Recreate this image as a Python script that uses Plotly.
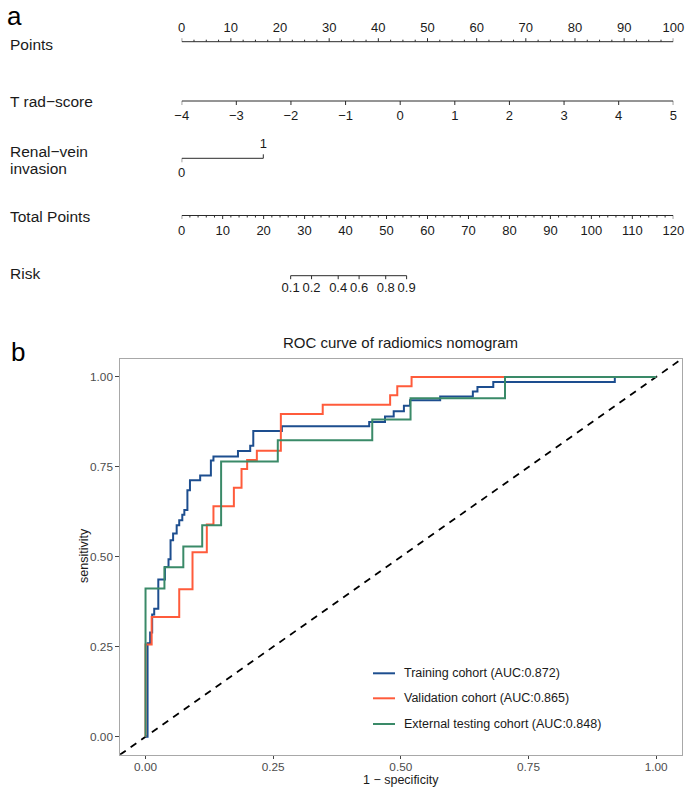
import plotly.graph_objects as go

W, H = 685, 787
FONT = "Liberation Sans, Arial, Helvetica, sans-serif"

# ---------------- Nomogram data ----------------
points_major = [0, 10, 20, 30, 40, 50, 60, 70, 80, 90, 100]
points_minor = [i * 2.5 for i in range(41)]
trad_ticks = [-4, -3, -2, -1, 0, 1, 2, 3, 4, 5]
trad_range = [-4, 5]
renal_levels = ["0", "1"]
renal_points = [0, 16.6]
total_major = [0, 10, 20, 30, 40, 50, 60, 70, 80, 90, 100, 110, 120]
total_minor = [i * 2 for i in range(61)]
total_max = 120
risk_ticks = [0.1, 0.2, 0.4, 0.6, 0.8, 0.9]
risk_labels = ["0.1", "0.2", "0.4", "0.6", "0.8", "0.9"]
risk_total_points = [26.6, 31.7, 38.2, 43.3, 49.8, 54.9]

# ---------------- ROC data ----------------
train_fpr = [0, 0.004, 0.004, 0.009, 0.013, 0.017, 0.025, 0.038, 0.045, 0.049, 0.054, 0.061,
             0.066, 0.072, 0.076, 0.082, 0.087, 0.107, 0.128, 0.133, 0.181, 0.205, 0.211,
             0.267, 0.438, 0.469, 0.486, 0.506, 0.518, 0.577, 0.641, 0.65, 0.681, 0.919, 1.0]
train_tpr = [0, 0.215, 0.26, 0.29, 0.34, 0.356, 0.437, 0.472, 0.493, 0.546, 0.565, 0.588,
             0.602, 0.617, 0.63, 0.685, 0.713, 0.726, 0.768, 0.779, 0.794, 0.809, 0.85,
             0.863, 0.875, 0.89, 0.905, 0.92, 0.935, 0.946, 0.96, 0.972, 0.986, 1.0, 1.0]
valid_fpr = [0, 0, 0.012, 0.066, 0.092, 0.12, 0.133, 0.173, 0.188, 0.199, 0.218, 0.265,
             0.347, 0.479, 0.493, 0.521, 1.0]
valid_tpr = [0, 0.256, 0.333, 0.41, 0.513, 0.59, 0.641, 0.692, 0.744, 0.769, 0.795, 0.897,
             0.923, 0.949, 0.974, 1.0, 1.0]
ext_fpr = [0, 0, 0.037, 0.074, 0.111, 0.148, 0.259, 0.444, 0.519, 0.704, 1.0]
ext_tpr = [0, 0.412, 0.471, 0.529, 0.588, 0.765, 0.824, 0.882, 0.941, 1.0, 1.0]

series_names = ["Training cohort (AUC:0.872)", "Validation cohort (AUC:0.865)",
                "External testing cohort (AUC:0.848)"]
series_colors = ["#1D4E8F", "#FF5B3B", "#3A8A68"]
roc_ticks = [0.0, 0.25, 0.5, 0.75, 1.0]


def px(x):
    return x / W


def py(y):
    return 1 - y / H


def mlabel(v):
    return str(v).replace("-", "\u2212")


fig = go.Figure()
ann = []
shapes = []

# ---------- nomogram (x2 / y2: x in points, y in pixels from top) ----------
LINEC = "#2b2b2b"


def add_segments(xs, ys):
    fig.add_trace(go.Scatter(x=xs, y=ys, mode="lines", xaxis="x2", yaxis="y2",
                             line=dict(color=LINEC, width=1), hoverinfo="skip",
                             showlegend=False, cliponaxis=False))


def add_text(xs, ys, texts, size=13):
    fig.add_trace(go.Scatter(x=xs, y=ys, mode="text", text=texts, xaxis="x2", yaxis="y2",
                             textposition="middle center",
                             textfont=dict(family=FONT, size=size, color="#1a1a1a"),
                             hoverinfo="skip", showlegend=False, cliponaxis=False))


# Points row
yl = 41.7
xs, ys = [0, 100, None], [yl, yl, None]
for v in points_minor:
    top = yl - 3.5 if v in points_major else yl - 2
    xs += [v, v, None]
    ys += [yl, top, None]
add_segments(xs, ys)
add_text(points_major, [29] * len(points_major), [str(v) for v in points_major])

# T rad-score row
yl = 101
to_pts = lambda s: (s - trad_range[0]) / (trad_range[1] - trad_range[0]) * 100
xs, ys = [0, 100, None], [yl, yl, None]
for v in trad_ticks:
    xs += [to_pts(v), to_pts(v), None]
    ys += [yl, yl + 4, None]
add_segments(xs, ys)
add_text([to_pts(v) for v in trad_ticks], [117] * len(trad_ticks), [mlabel(v) for v in trad_ticks])

# Renal-vein invasion row
yl = 158.3
add_segments([renal_points[0], renal_points[1], None, renal_points[0], renal_points[0], None,
              renal_points[1], renal_points[1]],
             [yl, yl, None, yl, yl + 4, None, yl, yl - 4])
add_text([renal_points[1]], [145], [renal_levels[1]])
add_text([renal_points[0]], [173.3], [renal_levels[0]])

# Total Points row
yl = 215.5
sc = 100 / total_max
xs, ys = [0, 100, None], [yl, yl, None]
for v in total_minor:
    bot = yl + 3.5 if v in total_major else yl + 2
    xs += [v * sc, v * sc, None]
    ys += [yl, bot, None]
add_segments(xs, ys)
add_text([v * sc for v in total_major], [231.5] * len(total_major), [str(v) for v in total_major])

# Risk row
yl = 275.7
rp = [v * sc for v in risk_total_points]
xs, ys = [rp[0], rp[-1], None], [yl, yl, None]
for v in rp:
    xs += [v, v, None]
    ys += [yl, yl + 3.5, None]
add_segments(xs, ys)
add_text(rp, [289] * len(rp), risk_labels)

# row labels
row_labels = [("Points", 44), ("T rad\u2212score", 101.5), ("Renal\u2212vein", 151),
              ("invasion", 168.5), ("Total Points", 216.5), ("Risk", 273.5)]
for t, y in row_labels:
    ann.append(dict(text=t, x=px(8), y=py(y), xref="paper", yref="paper", xanchor="left",
                    yanchor="middle", showarrow=False,
                    font=dict(family=FONT, size=15.5, color="#1a1a1a")))

# panel letters
ann.append(dict(text="a", x=px(14), y=py(15.5), xref="paper", yref="paper", showarrow=False,
                xanchor="center", yanchor="middle", font=dict(family=FONT, size=26, color="#000")))
ann.append(dict(text="b", x=px(18), y=py(352), xref="paper", yref="paper", showarrow=False,
                xanchor="center", yanchor="middle", font=dict(family=FONT, size=26, color="#000")))

# ---------- ROC ----------
fig.add_trace(go.Scatter(x=[-0.05, 1.05], y=[-0.05, 1.05], mode="lines",
                         line=dict(color="#000000", width=1.8, dash="7px,6px"),
                         hoverinfo="skip", showlegend=False))
for fx, ty, name, col in zip([train_fpr, valid_fpr, ext_fpr], [train_tpr, valid_tpr, ext_tpr],
                             series_names, series_colors):
    fig.add_trace(go.Scatter(x=fx, y=ty, mode="lines", line=dict(color=col, width=2, shape="hv"),
                             name=name, showlegend=False))

# manual legend
leg_y = [673.3, 698.3, 724]
for name, col, y in zip(series_names, series_colors, leg_y):
    shapes.append(dict(type="line", xref="paper", yref="paper", x0=px(373), x1=px(395),
                       y0=py(y), y1=py(y), line=dict(color=col, width=2)))
    ann.append(dict(text=name, x=px(401.5), y=py(y), xref="paper", yref="paper",
                    xanchor="left", yanchor="middle", showarrow=False,
                    font=dict(family=FONT, size=12.5, color="#1a1a1a")))

# title and axis titles
ann.append(dict(text="ROC curve of radiomics nomogram", x=px(400.9), y=py(343), xref="paper",
                yref="paper", xanchor="center", yanchor="middle", showarrow=False,
                font=dict(family=FONT, size=15, color="#1a1a1a")))
ann.append(dict(text="sensitivity", x=px(84), y=py(556), xref="paper", yref="paper",
                xanchor="center", yanchor="middle", showarrow=False, textangle=-90,
                font=dict(family=FONT, size=12.5, color="#1a1a1a")))
ann.append(dict(text="1 \u2212 specificity", x=px(400.9), y=py(780), xref="paper", yref="paper",
                xanchor="center", yanchor="middle", showarrow=False,
                font=dict(family=FONT, size=12.5, color="#1a1a1a")))

axis_common = dict(range=[-0.05, 1.05], tickvals=roc_ticks, ticktext=["%.2f" % v for v in roc_ticks],
                   ticks="outside", ticklen=3.5, tickwidth=1, tickcolor="#444444",
                   showgrid=False, zeroline=False, showline=True, mirror=True,
                   linecolor="#a8a8a8", linewidth=1.3,
                   tickfont=dict(family=FONT, size=11.8, color="#4d4d4d"))

fig.update_layout(
    width=W, height=H,
    margin=dict(l=0, r=0, t=0, b=0),
    paper_bgcolor="white", plot_bgcolor="white",
    showlegend=False,
    xaxis=dict(domain=[px(120), px(681.7)], anchor="y", ticklabelstandoff=-3, **axis_common),
    yaxis=dict(domain=[py(754.7), py(359)], anchor="x", **axis_common),
    xaxis2=dict(domain=[px(181.7), px(673.3)], range=[0, 100], anchor="y2", visible=False,
                fixedrange=True),
    yaxis2=dict(domain=[py(300), 1], range=[300, 0], anchor="x2", visible=False,
                fixedrange=True),
    annotations=ann,
    shapes=shapes,
)

fig.write_html("out.html", config={"displayModeBar": False},
               post_script="document.body.style.margin='0';")
